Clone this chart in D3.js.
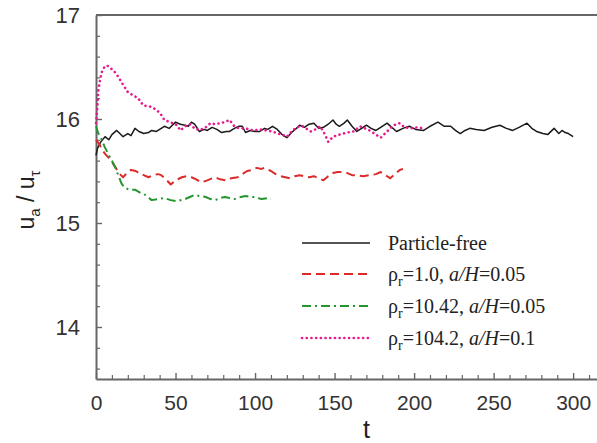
<!DOCTYPE html>
<html>
<head>
<meta charset="utf-8">
<script src="https://cdn.jsdelivr.net/npm/d3@7"></script>
<style>
  body { margin: 0; background: #fff; }
  svg { display: block; }
  .tick text { font-family: "Liberation Sans", Arial, sans-serif; fill: #333; }
  .legend text { font-family: "Liberation Serif", "Times New Roman", serif; fill: #222; }
</style>
</head>
<body>
<div id="chart"></div>
<script>
// series data (t, u_a/u_tau)
var freeT = [0, 1, 3, 5.7, 8, 10, 13, 15, 17, 20, 22, 24.5, 27, 30, 33, 35, 38, 40, 43, 46, 48, 50, 53, 56, 58, 60, 62, 65, 68, 70, 73, 76, 79, 82, 84, 87, 90, 92, 94, 97, 100, 103, 106, 108, 111, 114, 117, 120, 123, 126, 128, 131, 134, 137, 140, 143, 146, 149, 151, 153, 156, 158, 161, 164, 167, 170, 173, 176, 179, 183, 186, 189, 193, 197, 201, 206, 210, 215, 219, 223, 226, 229, 232, 235, 239, 244, 249, 254, 258, 262, 266, 271, 274, 277, 281, 284, 288, 291, 293, 295, 297, 300];
var freeU = [15.65, 15.72, 15.78, 15.83, 15.80, 15.85, 15.89, 15.86, 15.83, 15.86, 15.84, 15.91, 15.88, 15.86, 15.87, 15.89, 15.88, 15.90, 15.93, 15.91, 15.94, 15.97, 15.95, 15.94, 15.93, 15.97, 15.95, 15.88, 15.90, 15.89, 15.92, 15.90, 15.87, 15.88, 15.88, 15.91, 15.93, 15.93, 15.87, 15.89, 15.88, 15.88, 15.91, 15.90, 15.93, 15.90, 15.85, 15.82, 15.87, 15.91, 15.94, 15.92, 15.95, 15.96, 15.91, 15.92, 15.95, 15.99, 15.95, 15.93, 15.96, 15.99, 15.93, 15.88, 15.91, 15.94, 15.91, 15.89, 15.92, 15.96, 15.92, 15.88, 15.91, 15.93, 15.90, 15.89, 15.93, 15.97, 15.93, 15.93, 15.89, 15.86, 15.89, 15.91, 15.90, 15.89, 15.92, 15.94, 15.91, 15.89, 15.92, 15.96, 15.91, 15.88, 15.86, 15.85, 15.91, 15.86, 15.89, 15.87, 15.86, 15.83];

var r1T = [0, 2, 4, 6, 9, 12, 15, 17, 20, 22, 25, 27, 30, 33, 36, 39, 41, 44, 47, 50, 54, 57, 60, 63, 66, 70, 73, 75, 78, 82, 85, 89, 92, 95, 98, 101, 104, 106, 110, 113, 116, 119, 122, 125, 128, 131, 134, 137, 140, 143, 146, 149, 152, 155, 158, 161, 164, 168, 172, 176, 179, 182, 185, 188, 191, 193];
var r1U = [15.80, 15.76, 15.70, 15.66, 15.61, 15.54, 15.47, 15.44, 15.49, 15.51, 15.50, 15.48, 15.46, 15.44, 15.46, 15.47, 15.46, 15.42, 15.37, 15.41, 15.44, 15.45, 15.44, 15.42, 15.39, 15.41, 15.43, 15.44, 15.42, 15.41, 15.43, 15.44, 15.47, 15.50, 15.51, 15.53, 15.52, 15.53, 15.50, 15.47, 15.45, 15.44, 15.43, 15.45, 15.46, 15.45, 15.44, 15.45, 15.43, 15.41, 15.45, 15.48, 15.49, 15.49, 15.48, 15.46, 15.46, 15.45, 15.46, 15.47, 15.49, 15.46, 15.43, 15.47, 15.51, 15.52];

var r10T = [0, 1.5, 3.6, 5.5, 7.5, 10, 12, 14, 16, 18, 21, 24.5, 28, 31, 35, 39, 43, 47, 51, 56, 59, 62, 65, 69, 72, 75, 78, 81, 84, 87, 91, 94, 97, 100, 104, 108, 110];
var r10U = [15.93, 15.86, 15.80, 15.73, 15.67, 15.60, 15.54, 15.46, 15.38, 15.34, 15.32, 15.32, 15.29, 15.27, 15.22, 15.23, 15.24, 15.22, 15.21, 15.23, 15.25, 15.27, 15.26, 15.25, 15.23, 15.22, 15.24, 15.25, 15.24, 15.23, 15.25, 15.26, 15.25, 15.25, 15.23, 15.24, 15.23];

var r104T = [0, 0.5, 1, 1.5, 2.5, 3.6, 5.7, 7.5, 9, 10.8, 13, 15, 17, 20, 23, 26.5, 29.8, 34, 38, 41, 43, 46.5, 51, 53, 56, 59, 62, 65, 69, 72, 75, 78, 81, 84, 87, 90, 94, 99, 103, 107, 111, 114, 117, 120, 123, 126, 130, 133, 135, 138, 141, 144, 146, 149, 153, 158, 162, 166, 169, 172, 176, 179, 183, 187, 191, 194, 198, 202, 206];
var r104U = [15.96, 16.05, 16.15, 16.28, 16.37, 16.45, 16.51, 16.51, 16.49, 16.47, 16.43, 16.38, 16.33, 16.26, 16.23, 16.20, 16.13, 16.12, 16.09, 16.04, 15.99, 15.97, 15.94, 15.89, 15.93, 15.95, 15.91, 15.89, 15.92, 15.96, 15.95, 15.96, 15.97, 15.99, 15.93, 15.91, 15.91, 15.89, 15.90, 15.89, 15.88, 15.86, 15.85, 15.83, 15.88, 15.92, 15.93, 15.90, 15.88, 15.90, 15.93, 15.85, 15.78, 15.83, 15.85, 15.87, 15.88, 15.93, 15.91, 15.89, 15.85, 15.82, 15.88, 15.94, 15.96, 15.92, 15.91, 15.92, 15.91];

var xMajor = [0, 50, 100, 150, 200, 250, 300];
var yMajor = [14, 15, 16, 17];

var series = [
  { t: freeT, u: freeU, color: "#1a1a1a", width: 1.5, dash: null, cap: "butt", label: null },
  { t: r1T, u: r1U, color: "#dd2a2a", width: 2, dash: "9,5", cap: "butt", label: ["1.0", "0.05"] },
  { t: r10T, u: r10U, color: "#23962e", width: 2, dash: "9,4,2,4", cap: "butt", label: ["10.42", "0.05"] },
  { t: r104T, u: r104U, color: "#e8198c", width: 2.6, dash: "0.1,4.6", cap: "round", label: ["104.2", "0.1"] }
];

var svgWidth = 597, svgHeight = 443;
var svg = d3.select("#chart").append("svg")
  .attr("width", svgWidth)
  .attr("height", svgHeight);

// scales
var x = d3.scaleLinear().domain([0, 315]).range([96, 597]);
var y = d3.scaleLinear().domain([13.5, 17]).range([379, 15]);

var axisColor = "#666";

// minor ticks
var xMinor = d3.range(0, 315, 10).filter(d => d % 50 !== 0);
var yMinor = d3.range(13.6, 17, 0.2).filter(d => Math.abs(d - Math.round(d)) > 0.05);

svg.append("g")
  .attr("transform", `translate(0, ${y(13.5)})`)
  .call(d3.axisBottom(x).tickValues(xMinor).tickSizeInner(-4).tickSizeOuter(0).tickFormat(""))
  .call(g => g.select(".domain").remove())
  .selectAll("line").attr("stroke", axisColor).attr("stroke-width", 1.2);

svg.append("g")
  .attr("transform", `translate(${x(0)}, 0)`)
  .call(d3.axisLeft(y).tickValues(yMinor).tickSizeInner(-4).tickSizeOuter(0).tickFormat(""))
  .call(g => g.select(".domain").remove())
  .selectAll("line").attr("stroke", axisColor).attr("stroke-width", 1.2);

// major axes
var xAxis = svg.append("g")
  .attr("transform", `translate(0, ${y(13.5)})`)
  .call(d3.axisBottom(x).tickValues(xMajor).tickFormat(d3.format("d")).tickSizeInner(-6).tickSizeOuter(0).tickPadding(16));
xAxis.selectAll("text").attr("font-size", 21);

var yAxis = svg.append("g")
  .attr("transform", `translate(${x(0)}, 0)`)
  .call(d3.axisLeft(y).tickValues(yMajor).tickFormat(d3.format("d")).tickSizeInner(-6).tickSizeOuter(0).tickPadding(16));
yAxis.selectAll("text").attr("font-size", 22);

[xAxis, yAxis].forEach(function(g) {
  g.select(".domain").attr("stroke", axisColor).attr("stroke-width", 2);
  g.selectAll(".tick line").attr("stroke", axisColor).attr("stroke-width", 1.4);
});

// top frame line
svg.append("line")
  .attr("x1", x(0)).attr("x2", svgWidth)
  .attr("y1", y(17)).attr("y2", y(17))
  .attr("stroke", axisColor)
  .attr("stroke-width", 2);

// axis titles
svg.append("text")
  .attr("x", (x(0) + svgWidth) / 2 + 20)
  .attr("y", 438)
  .attr("text-anchor", "middle")
  .attr("font-family", "Liberation Sans, Arial, sans-serif")
  .attr("font-size", 25)
  .attr("fill", "#222")
  .text("t");

var yTitle = svg.append("text")
  .attr("transform", `translate(34, ${(y(13.5) + y(17)) / 2 + 3}) rotate(-90)`)
  .attr("text-anchor", "middle")
  .attr("font-family", "Liberation Sans, Arial, sans-serif")
  .attr("font-size", 23)
  .attr("fill", "#222");
yTitle.append("tspan").text("u");
yTitle.append("tspan").attr("font-size", 15).attr("dy", 6).text("a");
yTitle.append("tspan").attr("dy", -6).text(" / u");
yTitle.append("tspan").attr("font-size", 15).attr("dy", 6).text("τ");

// lines
var line = d3.line()
  .x(d => x(d[0]))
  .y(d => y(d[1]));

series.forEach(function(s) {
  var pts = s.t.map((t, i) => [t, s.u[i]]);
  svg.append("path")
    .datum(pts)
    .attr("fill", "none")
    .attr("stroke", s.color)
    .attr("stroke-width", s.width)
    .attr("stroke-dasharray", s.dash)
    .attr("stroke-linejoin", "round")
    .attr("stroke-linecap", s.cap)
    .attr("d", line);
});

// legend
var legend = svg.append("g").attr("class", "legend");
var rowY = [243, 274, 306, 338];
series.forEach(function(s, i) {
  legend.append("line")
    .attr("x1", 302).attr("x2", 370)
    .attr("y1", rowY[i]).attr("y2", rowY[i])
    .attr("stroke", s.color)
    .attr("stroke-width", s.width)
    .attr("stroke-dasharray", s.dash)
    .attr("stroke-linecap", s.cap);
  var txt = legend.append("text")
    .attr("x", 388)
    .attr("y", rowY[i] + 7)
    .attr("font-size", 20);
  if (!s.label) {
    txt.text("Particle-free");
  } else {
    txt.append("tspan").text("ρ");
    txt.append("tspan").attr("font-size", 14).attr("dy", 5).text("r");
    txt.append("tspan").attr("dy", -5).text("=" + s.label[0] + ", ");
    txt.append("tspan").attr("font-style", "italic").text("a/H");
    txt.append("tspan").text("=" + s.label[1]);
  }
});
</script>
</body>
</html>
